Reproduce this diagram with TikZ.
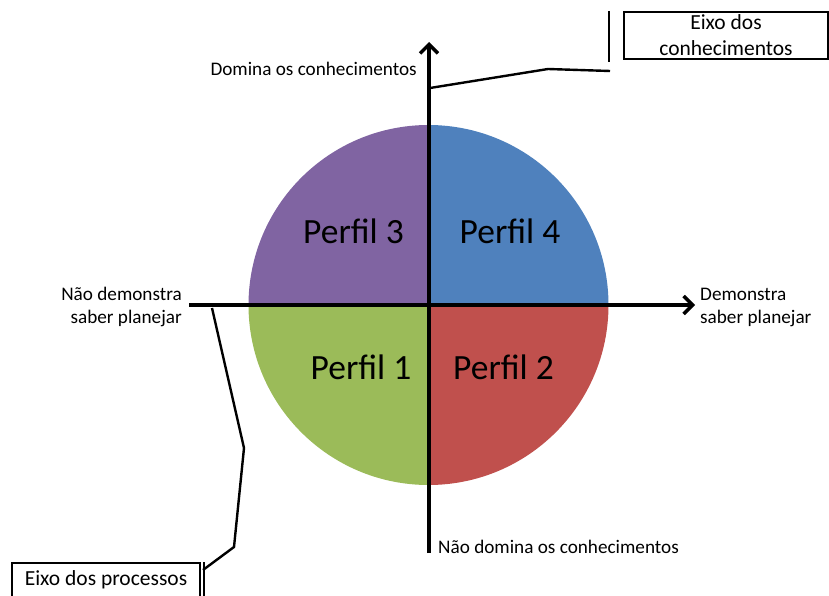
\documentclass[tikz,border=0pt]{standalone}
\usepackage{fontspec}
\setmainfont{Carlito}
\usetikzlibrary{arrows.meta}
\definecolor{qpurple}{HTML}{8064A2}
\definecolor{qblue}{HTML}{4F81BD}
\definecolor{qgreen}{HTML}{9BBB59}
\definecolor{qred}{HTML}{C0504D}
\tikzset{
  axis/.style={line width=3.5pt,-{Straight Barb[length=9pt,width=18pt]}},
  perfil/.style={inner sep=0pt,font=\fontsize{35.5}{40}\selectfont},
  axlabel/.style={inner sep=0pt,font=\fontsize{19.2}{23}\selectfont},
  callbox/.style={draw,line width=2pt,inner sep=0pt,align=center,font=\fontsize{21.5}{26}\selectfont},
  callline/.style={line width=2.4pt,line join=miter}
}
\begin{document}
\begin{tikzpicture}[x=1pt,y=-1pt]
\useasboundingbox (0,0) rectangle (829,596);
\clip (0,0) rectangle (829,596);
\coordinate (c) at (428.5,305);
% quadrants
\begin{scope}\clip (c) rectangle (200,100); \fill[qpurple] (c) circle[radius=180]; \end{scope}
\begin{scope}\clip (c) rectangle (650,100); \fill[qblue] (c) circle[radius=180]; \end{scope}
\begin{scope}\clip (c) rectangle (200,520); \fill[qgreen] (c) circle[radius=180]; \end{scope}
\begin{scope}\clip (c) rectangle (650,520); \fill[qred] (c) circle[radius=180]; \end{scope}
% profile labels
\node[perfil] (p3) at (353.5,231) {Perfil 3};
\node[perfil] (p4) at (510,231) {Perfil 4};
\node[perfil] (p1) at (361,367) {Perfil 1};
\node[perfil] (p2) at (503.5,367) {Perfil 2};
% axes
\coordinate (hL) at (189,305);
\coordinate (hR) at (695,305);
\coordinate (vT) at (429,42);
\coordinate (vB) at (429,553);
\draw[axis] (hL) -- (hR);
\draw[axis] (vB) -- (vT);
% axis labels
\node[axlabel,anchor=east] (dom) at (417,69) {Domina os conhecimentos};
\node[axlabel,anchor=west] (ndom) at (438,547) {Não domina os conhecimentos};
\node[axlabel,anchor=east,align=right] (ndem) at (182,307) {Não demonstra\\saber planejar};
\node[axlabel,anchor=west,align=left] (dem) at (700,307) {Demonstra\\saber planejar};
% callout boxes
\node[callbox,minimum width=204pt,minimum height=47pt] (ec) at (726,35.5) {Eixo dos\\conhecimentos};
\node[callbox,minimum width=188pt,minimum height=34pt] (ep) at (106,580) {Eixo dos processos};
% accent bars
\draw[line width=2pt] ([xshift=-14pt]ec.north west) -- ([xshift=-14pt,yshift=-2pt]ec.south west);
\draw[line width=2pt] ([xshift=3pt]ep.north east) -- ([xshift=3pt]ep.south east);
% callout leaders
\coordinate (ecA) at (430,88);
\coordinate (ecB) at (548,69);
\coordinate (ecC) at (610,71);
\draw[callline] (ecA) -- (ecB) -- (ecC);
\coordinate (epA) at (212,308);
\coordinate (epB) at (244,448);
\coordinate (epC) at (234,547);
\coordinate (epD) at (203,570);
\draw[callline] (epA) -- (epB) -- (epC) -- (epD);
\end{tikzpicture}
\end{document}
